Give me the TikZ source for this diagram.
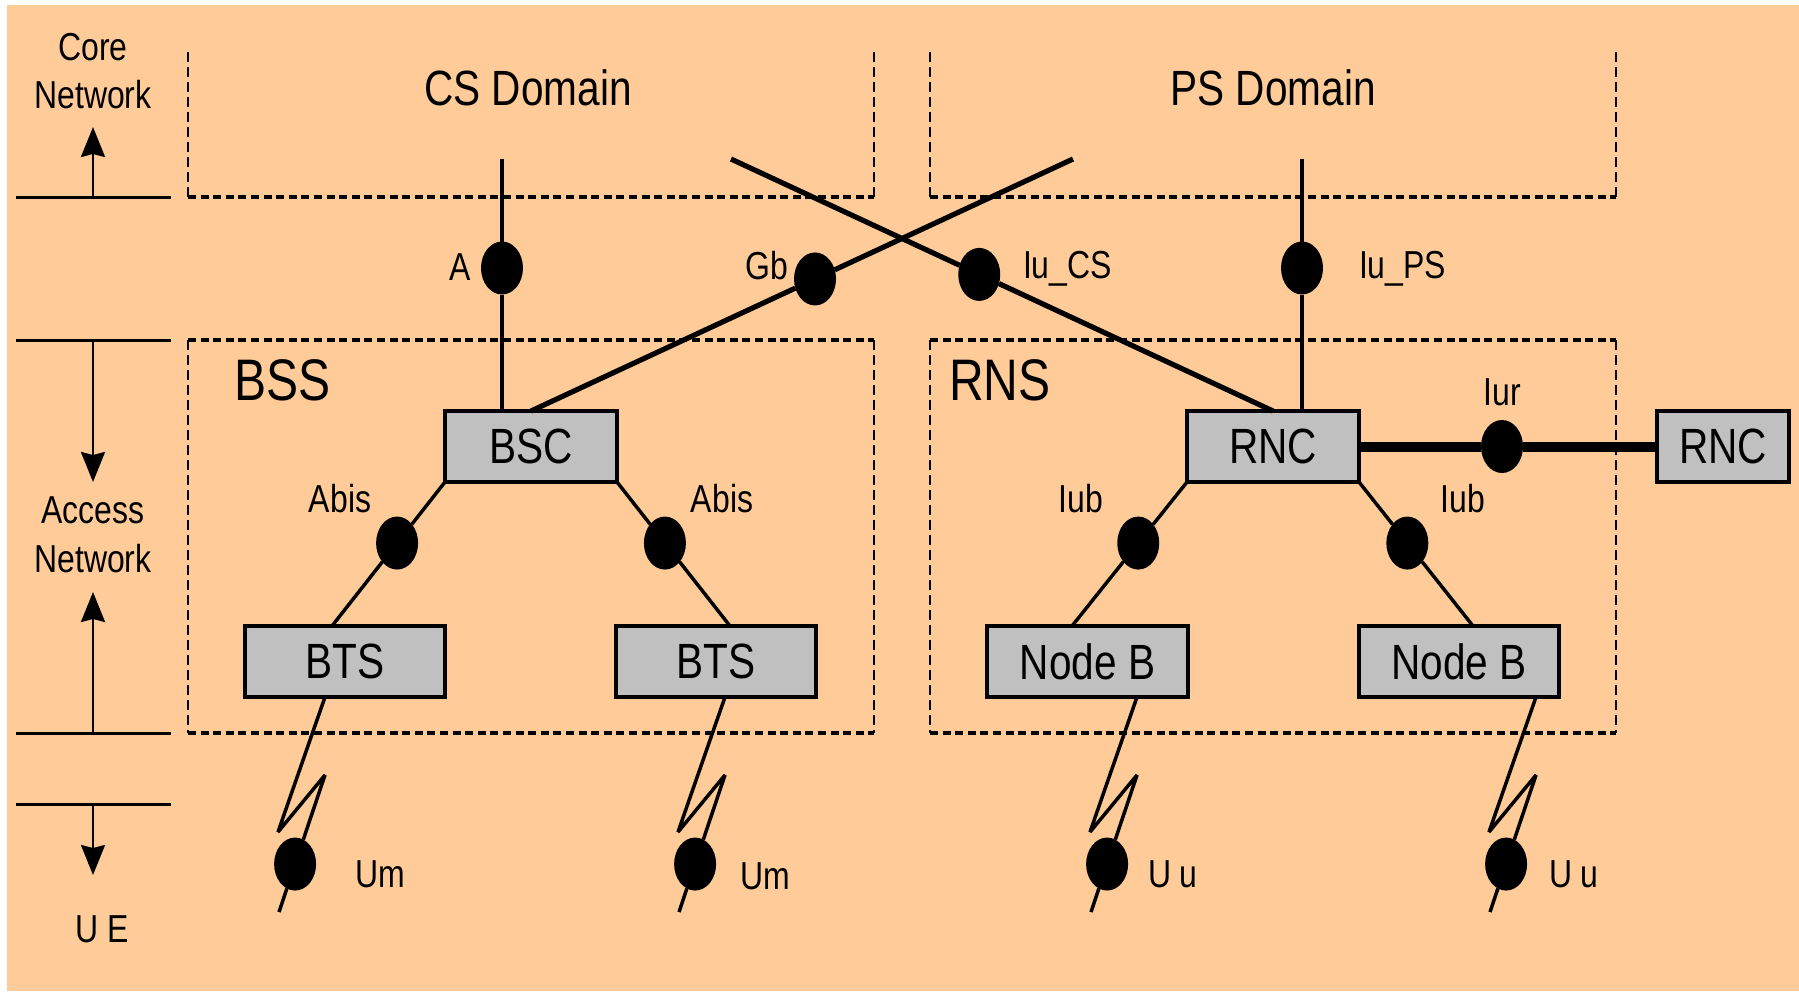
\documentclass[tikz,border=0pt]{standalone}
\usepackage{fontspec}
\setmainfont{Liberation Sans}[FakeStretch=0.82]
\usetikzlibrary{shapes.geometric,arrows.meta,calc}
\definecolor{bgpeach}{HTML}{FFCC99}
\definecolor{boxgray}{HTML}{C0C0C0}

\begin{document}
\begin{tikzpicture}[x=0.5pt,y=-0.5pt,
  every node/.style={inner sep=0pt, outer sep=0pt},
  lblS/.style={font=\fontsize{19.5}{23}\selectfont},
  lblM/.style={font=\fontsize{24.75}{29}\selectfont},
  lblL/.style={font=\fontsize{29.3}{34}\selectfont},
  unit/.style={draw=black, line width=1.6pt, fill=boxgray, minimum height=35.5pt, lblM},
  iface/.style={ellipse, fill=black, minimum width=21pt, minimum height=26.5pt},
  link/.style={line width=1.75pt},
  wide/.style={line width=2.6pt},
  trunk/.style={line width=5pt},
  hdash/.style={line width=1.6pt, dash pattern=on 4pt off 2.3pt},
  vdash/.style={line width=1.1pt, dash pattern=on 5pt off 2.5pt},
  tick/.style={line width=1.5pt},
  dir/.style={line width=1.3pt, -{Stealth[length=15pt, width=12pt, inset=1.5pt]}}
]
\useasboundingbox (0,0) rectangle (1799,991);
\fill[white] (0,0) rectangle (1799,991);
\fill[bgpeach] (7,5) rectangle (1799,991);

% ---- level scale on the left ----
\node[lblS, anchor=base] (coreA) at (93,60) {Core};
\node[lblS, anchor=base] (coreB) at (93,108) {Network};
\node[lblS, anchor=base] (accA) at (93,523) {Access};
\node[lblS, anchor=base] (accB) at (93,572) {Network};
\node[lblS, anchor=base] (ue) at (102,942) {U E};
\coordinate (s1) at (93,197); \coordinate (s1t) at (93,127);
\coordinate (s2) at (93,340); \coordinate (s2t) at (93,482);
\coordinate (s3) at (93,733); \coordinate (s3t) at (93,592);
\coordinate (s4) at (93,804); \coordinate (s4t) at (93,875);
\foreach \s in {s1,s2,s3,s4} {
  \draw[tick] ($(\s)+(-77,0)$) -- ($(\s)+(78,0)$);
  \draw[dir] (\s) -- (\s t);
}

% ---- domain frames ----
\foreach \l/\r in {188/874, 930/1616} {
  \draw[vdash] (\l,52) -- (\l,197);
  \draw[vdash] (\r,52) -- (\r,197);
  \draw[hdash] (\l,197) -- (\r,197);
  \draw[hdash] (\l,340) -- (\r,340);
  \draw[hdash] (\l,733) -- (\r,733);
  \draw[vdash] (\l,340) -- (\l,733);
  \draw[vdash] (\r,340) -- (\r,733);
}
\node[lblM, anchor=base] (cs) at (528,105) {CS Domain};
\node[lblM, anchor=base] (ps) at (1273,105) {PS Domain};
\node[lblL, anchor=base west] (bss) at (234,400) {BSS};
\node[lblL, anchor=base west] (rns) at (949,400) {RNS};

% ---- network elements ----
\node[unit, minimum width=86pt] (BSC) at (531,446.5) {BSC};
\node[unit, minimum width=100pt] (BTS1) at (345,661.5) {BTS};
\node[unit, minimum width=100pt] (BTS2) at (716,661.5) {BTS};
\node[unit, minimum width=86pt] (RNC) at (1273,446.5) {RNC};
\node[unit, minimum width=100.5pt] (NB1) at (1087.5,661.5) {Node B};
\node[unit, minimum width=100pt] (NB2) at (1459,661.5) {Node B};
\node[unit, minimum width=66pt] (RNC2) at (1723,446.5) {RNC};

% ---- core interfaces ----
\coordinate (aTop) at (502,159);
\coordinate (gbTop) at (1073,159);
\coordinate (iucsTop) at (731,159);
\coordinate (iupsTop) at (1302,159);

\node[iface] (A) at (502,268) {};
\draw[link] (aTop) -- (A) -- (A |- BSC.north);
\node[lblS, anchor=base east] at (471,280) {A};

\node[iface] (Gb) at ($(BSC.north)!0.524!(gbTop)$) {};
\draw[wide] (BSC.north) -- (Gb) -- (gbTop);
\node[lblS, anchor=base east] at (788,279) {Gb};

\node[iface] (IuCS) at ($(iucsTop)!0.458!(RNC.north)$) {};
\draw[wide] (iucsTop) -- (IuCS) -- (RNC.north);
\node[lblS, anchor=base west] at (1023,278) {Iu\_CS};

\node[iface] (IuPS) at (1302,268) {};
\draw[link] (iupsTop) -- (IuPS) -- (IuPS |- RNC.north);
\node[lblS, anchor=base west] at (1359,278) {Iu\_PS};

\node[iface] (Iur) at (1502,446.5) {};
\draw[trunk] (RNC.east) -- (Iur) -- (RNC2.west);
\node[lblS, anchor=base] at (1502,405) {Iur};

% ---- access interfaces ----
\coordinate (bts1top) at ($(BTS1.north)+(-13,0)$);
\coordinate (bts2top) at ($(BTS2.north)+(14,0)$);
\coordinate (nb1top) at ($(NB1.north)+(-15.5,0)$);
\coordinate (nb2top) at ($(NB2.north)+(14,0)$);
\node[iface] (Abis1) at ($(BSC.south west)!0.424!(bts1top)$) {};
\node[iface] (Abis2) at ($(BSC.south east)!0.424!(bts2top)$) {};
\node[iface] (Iub1) at ($(RNC.south west)!0.424!(nb1top)$) {};
\node[iface] (Iub2) at ($(RNC.south east)!0.424!(nb2top)$) {};
\draw[link] (BSC.south west) -- (Abis1) -- (bts1top);
\draw[link] (BSC.south east) -- (Abis2) -- (bts2top);
\draw[link] (RNC.south west) -- (Iub1) -- (nb1top);
\draw[link] (RNC.south east) -- (Iub2) -- (nb2top);
\node[lblS, anchor=base] at (340,512) {Abis};
\node[lblS, anchor=base] at (722,512) {Abis};
\node[lblS, anchor=base] at (1081,512) {Iub};
\node[lblS, anchor=base] at (1463,512) {Iub};

% ---- radio links ----
\foreach \b/\dx/\n in {BTS1/-20/1, BTS2/9/2, NB1/49.5/3, NB2/77/4} {
  \coordinate (z\n a) at ($(\b.south)+(\dx,0)$);
  \coordinate (z\n b) at ($(z\n a)+(-47,135)$);
  \coordinate (z\n c) at ($(z\n a)+(0,78)$);
  \coordinate (z\n d) at ($(z\n a)+(-46,215)$);
  \node[iface] (air\n) at ($(z\n c)!0.65!(z\n d)$) {};
  \draw[link, miter limit=2] (z\n a) -- (z\n b) -- (z\n c) -- (air\n) -- (z\n d);
}
\node[lblS, anchor=base west] at (355,887) {Um};
\node[lblS, anchor=base west] at (740,889) {Um};
\node[lblS, anchor=base west] at (1148,887) {U u};
\node[lblS, anchor=base west] at (1549,887) {U u};
\end{tikzpicture}
\end{document}
